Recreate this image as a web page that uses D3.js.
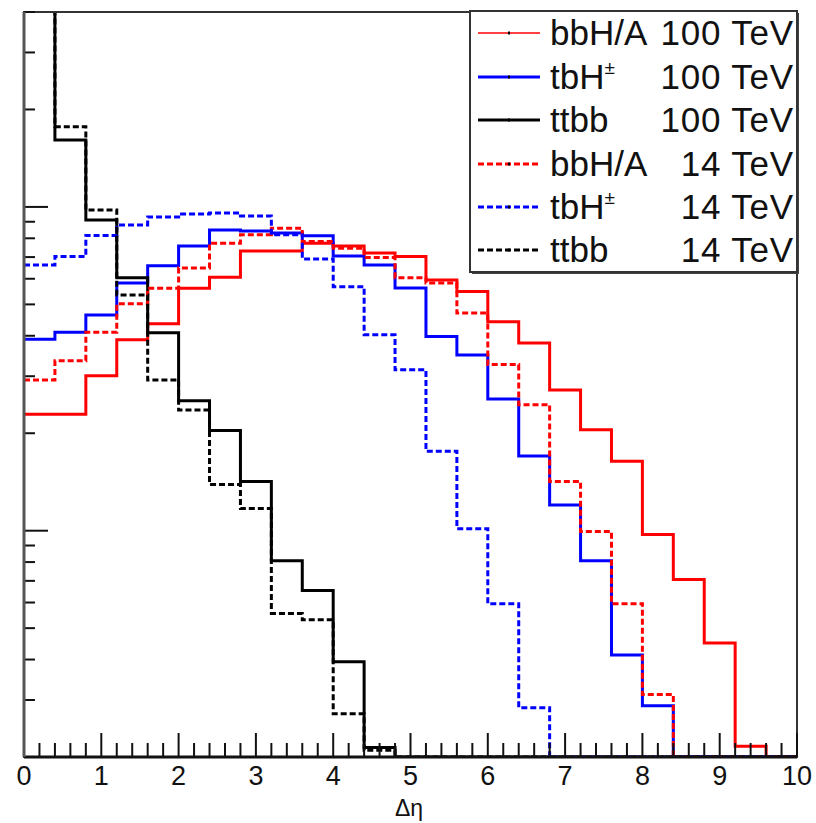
<!DOCTYPE html>
<html>
<head>
<meta charset="utf-8">
<script src="https://cdn.jsdelivr.net/npm/d3@7"></script>
<style>
  html, body { margin: 0; padding: 0; background: #fff; }
  svg { display: block; font-family: "Liberation Sans", Arial, Helvetica, sans-serif; }
</style>
</head>
<body>
<svg id="chart" width="816" height="823"></svg>
<script>
// ---- data (Δη distributions, log scale, 25 bins of width 0.4) ----
const binEdges = [0, 0.4, 0.8, 1.2, 1.6, 2.0, 2.4, 2.8, 3.2, 3.6, 4.0, 4.4, 4.8, 5.2, 5.6, 6.0, 6.4, 6.8, 7.2, 7.6, 8.0, 8.4, 8.8, 9.2, 9.6, 10.0];

const bbH100 = [0.0229, 0.0229, 0.0301, 0.0389, 0.0436, 0.0561, 0.0606, 0.0731, 0.0731, 0.0773, 0.0758, 0.0720, 0.0703, 0.0595, 0.0548, 0.0442, 0.0380, 0.0272, 0.0205, 0.0164, 0.00973, 0.00707, 0.00450, 0.00216, 0];
const tbH100  = [0.0390, 0.0410, 0.0464, 0.0582, 0.0658, 0.0758, 0.0849, 0.0843, 0.0831, 0.0814, 0.0706, 0.0662, 0.0562, 0.0398, 0.0349, 0.0255, 0.0170, 0.0120, 0.00808, 0.00413, 0.00288, 0, 0, 0, 0];
const ttbb100 = [0.50, 0.161, 0.0912, 0.0604, 0.0409, 0.0252, 0.0204, 0.0142, 0.00808, 0.00654, 0.00394, 0.00214, 0, 0, 0, 0, 0, 0, 0, 0, 0, 0, 0, 0, 0];
const bbH14   = [0.0292, 0.0335, 0.0410, 0.0502, 0.0561, 0.0648, 0.0773, 0.0820, 0.0860, 0.0782, 0.0746, 0.0698, 0.0604, 0.0582, 0.0470, 0.0326, 0.0245, 0.0142, 0.00995, 0.00595, 0.00312, 0, 0, 0, 0];
const tbH14   = [0.0662, 0.0703, 0.0816, 0.0880, 0.0931, 0.0951, 0.0958, 0.0938, 0.0820, 0.0691, 0.0567, 0.0403, 0.0314, 0.0176, 0.01014, 0.00595, 0.00284, 0, 0, 0, 0, 0, 0, 0, 0];
const ttbb14  = [0.45, 0.177, 0.0979, 0.0535, 0.0292, 0.0236, 0.0139, 0.0117, 0.00555, 0.00531, 0.00272, 0.00210, 0, 0, 0, 0, 0, 0, 0, 0, 0, 0, 0, 0, 0];

const xTickValues = [0, 1, 2, 3, 4, 5, 6, 7, 8, 9, 10];
const xTickLabels = ["0", "1", "2", "3", "4", "5", "6", "7", "8", "9", "10"];
const xTitle = "Δη";

const seriesNames  = ["bbH/A", "tbH", "ttbb", "bbH/A", "tbH", "ttbb"];
const seriesEnergy = ["100 TeV", "100 TeV", "100 TeV", "14 TeV", "14 TeV", "14 TeV"];
const seriesSup    = ["", "±", "", "", "±", ""];

// ---- drawing ----
const series = [
  { values: bbH100,  color: "#ff0000", dash: null,  legW: 1.6 },
  { values: tbH100,  color: "#0000ff", dash: null,  legW: 3.2 },
  { values: ttbb100, color: "#000000", dash: null,  legW: 3.2 },
  { values: bbH14,   color: "#ff0000", dash: "6,3", legW: 3.2 },
  { values: tbH14,   color: "#0000ff", dash: "6,3", legW: 3.2 },
  { values: ttbb14,  color: "#000000", dash: "6,3", legW: 3.2 }
];

const svg = d3.select("#chart");
const pL = 24, pR = 797, pT = 12, pB = 757;

const x = d3.scaleLinear().domain([0, 10]).range([pL, pR]);
const y = d3.scaleLog().domain([0.002, 0.4]).range([pB, pT]);

svg.append("defs").append("clipPath").attr("id", "plotclip")
  .append("rect").attr("x", pL).attr("y", pT).attr("width", pR - pL).attr("height", pB - pT);

function yv(v) { return v > 0 ? y(v) : pB; }

function stepPath(vals) {
  let d = `M${x(binEdges[0])},${yv(vals[0])}`;
  for (let i = 0; i < vals.length; i++) {
    if (i > 0) d += `V${yv(vals[i])}`;
    d += `H${x(binEdges[i + 1])}`;
  }
  d += `V${pB}`;
  return d;
}

const g = svg.append("g").attr("clip-path", "url(#plotclip)");
series.forEach(s => {
  g.append("path")
    .attr("d", stepPath(s.values))
    .attr("fill", "none")
    .attr("stroke", s.color)
    .attr("stroke-width", 3)
    .attr("stroke-dasharray", s.dash)
    .attr("stroke-linejoin", "miter");
});

// frame
svg.append("rect").attr("x", pL).attr("y", pT).attr("width", pR - pL).attr("height", pB - pT)
  .attr("fill", "none").attr("stroke", "#333").attr("stroke-width", 2);

// x axis ticks
const xMinorVals = d3.range(0, 51).map(k => +(k * 0.2).toFixed(1));
svg.append("g").selectAll("line").data(xMinorVals).join("line")
  .attr("x1", d => x(d)).attr("x2", d => x(d))
  .attr("y1", pB).attr("y2", d => (Math.abs(d - Math.round(d)) < 1e-6) ? pB - 24 : pB - 14)
  .attr("stroke", "#111").attr("stroke-width", 2);
svg.append("line").attr("x1", pL).attr("x2", pR).attr("y1", pB).attr("y2", pB)
  .attr("stroke", "#111").attr("stroke-width", 3);

svg.append("g").selectAll("text").data(xTickValues).join("text")
  .attr("x", d => x(d)).attr("y", 785)
  .attr("text-anchor", "middle").attr("font-size", 27).attr("fill", "#111")
  .text((d, i) => xTickLabels[i]);

svg.append("text").attr("x", 409).attr("y", 816).attr("text-anchor", "middle")
  .attr("font-size", 23).attr("fill", "#111").text(xTitle);

// y axis ticks (log, no labels)
const yTicks = [];
[0.001, 0.01, 0.1].forEach(dec => {
  for (let m = 1; m <= 9; m++) {
    const v = m * dec;
    if (v >= 0.002 - 1e-9 && v <= 0.4 + 1e-9) yTicks.push({ v: v, major: m === 1 });
  }
});
svg.append("g").selectAll("line").data(yTicks).join("line")
  .attr("x1", pL).attr("x2", d => d.major ? pL + 24 : pL + 11)
  .attr("y1", d => y(d.v)).attr("y2", d => y(d.v))
  .attr("stroke", "#111").attr("stroke-width", 2);
svg.append("line").attr("x1", pL).attr("x2", pL).attr("y1", pT).attr("y2", pB)
  .attr("stroke", "#555").attr("stroke-width", 3);

// legend
const lg = svg.append("g");
lg.append("rect").attr("x", 472).attr("y", 13).attr("width", 327).attr("height", 261).attr("fill", "#444");
lg.append("rect").attr("x", 470).attr("y", 11).attr("width", 327).attr("height", 261)
  .attr("fill", "#fff").attr("stroke", "#333").attr("stroke-width", 2);
const rowY = [33, 77, 120, 164, 207, 250];
series.forEach((s, i) => {
  const cy = rowY[i];
  lg.append("line").attr("x1", 478).attr("x2", 540).attr("y1", cy).attr("y2", cy)
    .attr("stroke", s.color).attr("stroke-width", s.legW).attr("stroke-dasharray", s.dash);
  lg.append("rect").attr("x", 508).attr("y", cy - 1.5).attr("width", 2).attr("height", 3).attr("fill", "#000");
  const t = lg.append("text").attr("x", 550).attr("y", cy + 12).attr("font-size", 35).attr("fill", "#111");
  t.append("tspan").text(seriesNames[i]);
  if (seriesSup[i]) {
    t.append("tspan").attr("font-size", 19).attr("dy", -15).text(seriesSup[i]);
  }
  lg.append("text").attr("x", 794).attr("y", cy + 12).attr("text-anchor", "end")
    .attr("font-size", 35).attr("letter-spacing", 0.8).attr("fill", "#111").text(seriesEnergy[i]);
});
</script>
</body>
</html>
